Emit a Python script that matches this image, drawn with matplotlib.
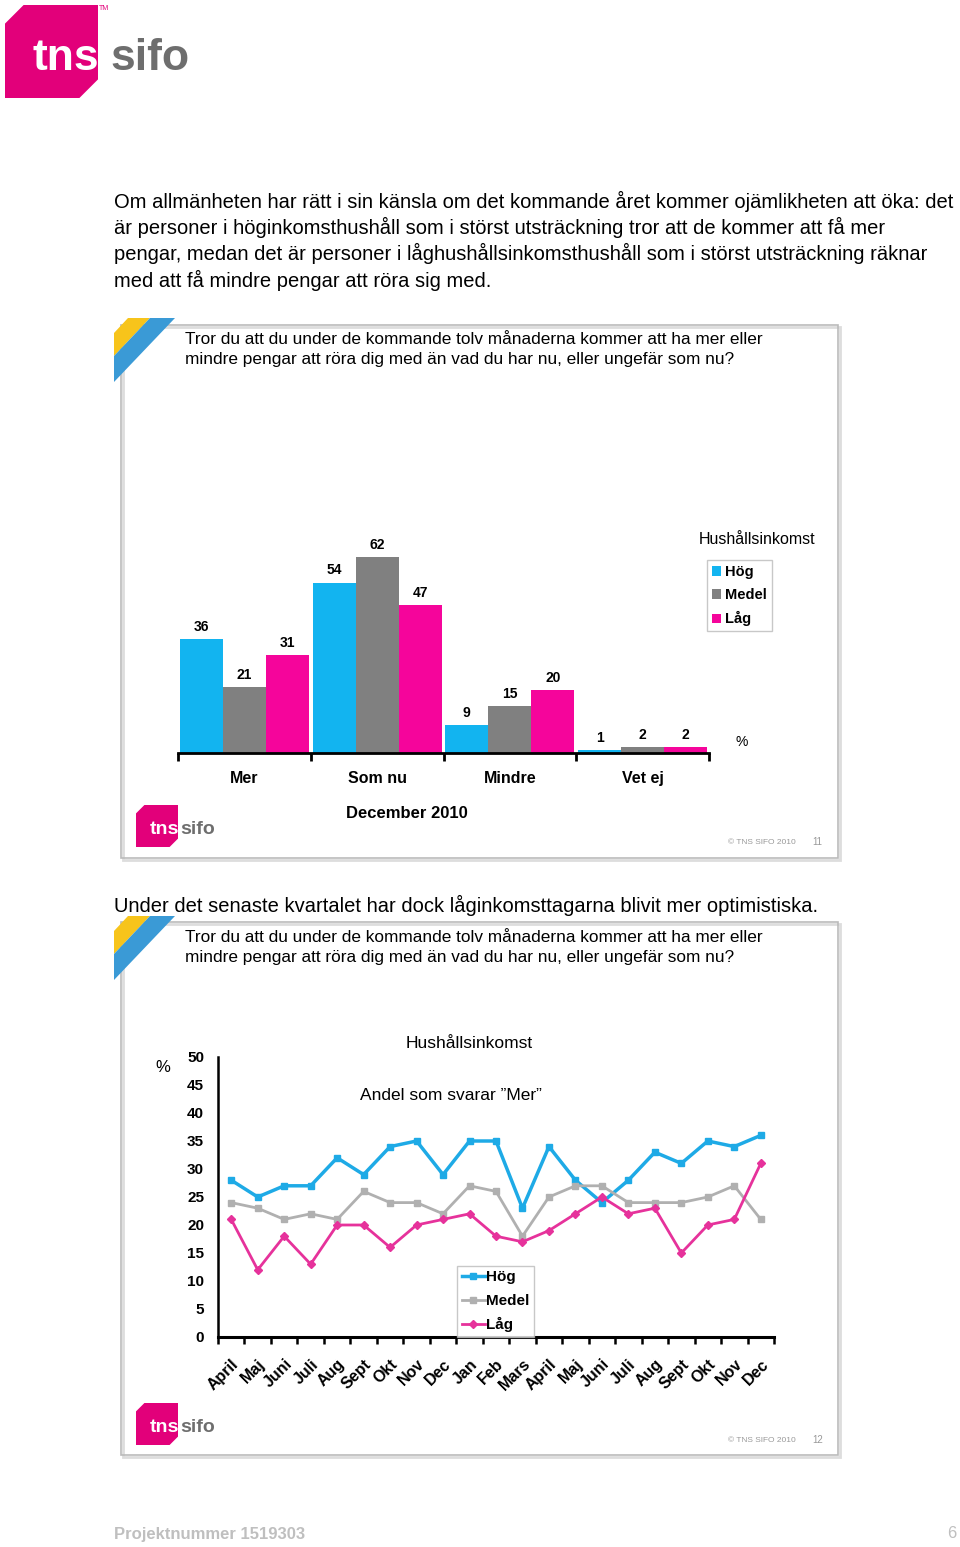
import matplotlib.pyplot as plt
from matplotlib.patches import Polygon, Rectangle

# Data - bar chart (December 2010)
categories = ["Mer", "Som nu", "Mindre", "Vet ej"]
bar_hog = [36, 54, 9, 1]
bar_medel = [21, 62, 15, 2]
bar_lag = [31, 47, 20, 2]

# Data - line chart (andel som svarar "Mer")
months = ["April", "Maj", "Juni", "Juli", "Aug", "Sept", "Okt", "Nov", "Dec",
          "Jan", "Feb", "Mars", "April", "Maj", "Juni", "Juli", "Aug", "Sept",
          "Okt", "Nov", "Dec"]
line_hog = [28, 25, 27, 27, 32, 29, 34, 35, 29, 35, 35, 23, 34, 28, 24, 28, 33, 31, 35, 34, 36]
line_medel = [24, 23, 21, 22, 21, 26, 24, 24, 22, 27, 26, 18, 25, 27, 27, 24, 24, 24, 25, 27, 21]
line_lag = [21, 12, 18, 13, 20, 20, 16, 20, 21, 22, 18, 17, 19, 22, 25, 22, 23, 15, 20, 21, 31]

BLUE = "#12B4F0"
GRAY = "#808080"
PINK = "#F5059B"
LBLUE = "#1EAAE6"
LGRAY = "#B0B0B0"
LPINK = "#E6329B"
MAGENTA = "#E2007A"

plt.rcParams['font.family'] = ['Liberation Sans', 'DejaVu Sans']
W, H = 960, 1547
fig = plt.figure(figsize=(9.6, 15.47), dpi=100)

# overlay in pixel coordinates
ov = fig.add_axes([0, 0, 1, 1], zorder=0)
ov.set_xlim(0, W)
ov.set_ylim(H, 0)
ov.axis('off')


def px_axes(x0, y0, x1, y1):
    return fig.add_axes([x0 / W, (H - y1) / H, (x1 - x0) / W, (y1 - y0) / H], zorder=2)


def logo(x, y, s, fs, gap):
    pts = [(x + 0.2 * s, y), (x + s, y), (x + s, y + 0.8 * s), (x + 0.8 * s, y + s),
           (x, y + s), (x, y + 0.2 * s)]
    ov.add_patch(Polygon(pts, closed=True, color=MAGENTA, lw=0))
    ov.text(x + s + 1, y + 0.58 * s, "tns", color="white", fontsize=fs,
            fontweight="bold", va="center", ha="right")
    ov.text(x + s + gap, y + 0.58 * s, "sifo", color="#6E6E6E", fontsize=fs,
            fontweight="bold", va="center", ha="left")


def corner(x, y):
    ov.add_patch(Polygon([(x + 14, y), (x + 36, y), (x, y + 38), (x, y + 15)],
                         closed=True, color="#F7C41B", lw=0))
    ov.add_patch(Polygon([(x + 36, y), (x + 61, y), (x, y + 64), (x, y + 38)],
                         closed=True, color="#3A9AD6", lw=0))


def panel(y0, y1):
    ov.add_patch(Rectangle((123, y0 + 2), 717, y1 - y0, fill=False, ec="#DDDDDD", lw=2))
    ov.add_patch(Rectangle((121, y0), 717, y1 - y0, fill=False, ec="#BBBBBB", lw=1.2))


# header logo
logo(5, 5, 93, 32, 12)
ov.text(99, 8, "TM", color=MAGENTA, fontsize=5, va="center")

para = ("Om allmänheten har rätt i sin känsla om det kommande året kommer ojämlikheten att öka: det\n"
        "är personer i höginkomsthushåll som i störst utsträckning tror att de kommer att få mer\n"
        "pengar, medan det är personer i låghushållsinkomsthushåll som i störst utsträckning räknar\n"
        "med att få mindre pengar att röra sig med.")
ov.text(114, 191, para, fontsize=14.5, va="top", ha="left", linespacing=1.3)

question = ("Tror du att du under de kommande tolv månaderna kommer att ha mer eller\n"
            "mindre pengar att röra dig med än vad du har nu, eller ungefär som nu?")

# ---- panel 1 ----
panel(325, 858)
corner(114, 318)
ov.text(185, 332, question, fontsize=12.4, va="top", ha="left", linespacing=1.42)

ax1 = px_axes(178, 532, 709, 753)
ax1.set_facecolor("none")
w = 0.324
xs = range(len(categories))
for off, vals, col, lab in [(-w, bar_hog, BLUE, "Hög"), (0, bar_medel, GRAY, "Medel"),
                            (w, bar_lag, PINK, "Låg")]:
    pos = [i + off for i in xs]
    ax1.bar(pos, vals, width=w, color=col, label=lab)
    for p, v in zip(pos, vals):
        ax1.text(p, v + 1.6, str(v), ha="center", va="bottom", fontsize=10, fontweight="bold")
ax1.set_xlim(-0.5, 3.5)
ax1.set_ylim(0, 70)
for s in ["top", "right", "left"]:
    ax1.spines[s].set_visible(False)
ax1.spines["bottom"].set_linewidth(2)
ax1.set_yticks([])
ax1.set_xticks([-0.5, 0.5, 1.5, 2.5, 3.5])
ax1.set_xticklabels([])
ax1.tick_params(axis="x", length=6, width=2, direction="out")
for i, c in enumerate(categories):
    ax1.text(i, -8, c, ha="center", va="center", fontsize=11.5, fontweight="bold")
ax1.text(3.7, 3.5, "%", ha="left", va="center", fontsize=10)
ov.text(757, 540, "Hushållsinkomst", ha="center", va="center", fontsize=11.5)
leg1 = ax1.legend(loc="upper left", bbox_to_anchor=(707 / W, (H - 560) / H),
                  bbox_transform=fig.transFigure, frameon=True, fancybox=False,
                  borderaxespad=0, handlelength=0.6, handleheight=0.6, handletextpad=0.3,
                  borderpad=0.35, labelspacing=0.62, prop={"weight": "bold", "size": 10.5})
leg1.get_frame().set_edgecolor("#BBBBBB")
ov.text(407, 813, "December 2010", ha="center", va="center", fontsize=12, fontweight="bold")
logo(136, 805, 42, 14, 2)
ov.text(728, 843, "© TNS SIFO 2010", fontsize=6, color="#999999", va="center")
ov.text(812, 842, "11", fontsize=7, color="#999999", va="center")

# ---- panel 2 ----
ov.text(114, 905, "Under det senaste kvartalet har dock låginkomsttagarna blivit mer optimistiska.",
        fontsize=14.5, va="center", ha="left")
panel(922, 1455)
corner(114, 916)
ov.text(185, 930, question, fontsize=12.4, va="top", ha="left", linespacing=1.42)

ax2 = px_axes(218, 1057, 774, 1337)
ax2.set_facecolor("none")
xm = list(range(len(months)))
ax2.plot(xm, line_hog, color=LBLUE, lw=2.5, marker="s", ms=5, label="Hög")
ax2.plot(xm, line_medel, color=LGRAY, lw=2, marker="s", ms=4, label="Medel")
ax2.plot(xm, line_lag, color=LPINK, lw=2, marker="D", ms=4.5, label="Låg")
ax2.set_xlim(-0.5, 20.5)
ax2.set_ylim(0, 50)
ax2.spines["top"].set_visible(False)
ax2.spines["right"].set_visible(False)
ax2.spines["left"].set_linewidth(1.8)
ax2.spines["bottom"].set_linewidth(2.2)
ax2.set_yticks(range(0, 51, 5))
ax2.tick_params(axis="y", length=0, pad=10, labelsize=11)
for t in ax2.get_yticklabels():
    t.set_fontweight("bold")
ax2.set_xticks(xm)
ax2.set_xticklabels(months, rotation=45, ha="right", rotation_mode="anchor",
                    fontsize=11.5, fontweight="bold")
ax2.tick_params(axis="x", length=0, pad=14)
ax2.set_xticks([i - 0.5 for i in range(22)], minor=True)
ax2.tick_params(axis="x", which="minor", length=5, width=1.8)
ov.text(163, 1067, "%", ha="center", va="center", fontsize=12)
ov.text(469, 1043, "Hushållsinkomst", ha="center", va="center", fontsize=12.5)
ov.text(451, 1096, "Andel som svarar \u201dMer\u201d", ha="center", va="center", fontsize=12.5)
leg2 = ax2.legend(loc="lower left", bbox_to_anchor=(457 / W, (H - 1337) / H),
                  bbox_transform=fig.transFigure, frameon=True, fancybox=False,
                  borderaxespad=0, handlelength=1.5, handletextpad=0.1, borderpad=0.3,
                  labelspacing=0.62, prop={"weight": "bold", "size": 11})
leg2.get_frame().set_edgecolor("#BBBBBB")
logo(136, 1403, 42, 14, 2)
ov.text(728, 1441, "© TNS SIFO 2010", fontsize=6, color="#999999", va="center")
ov.text(812, 1440, "12", fontsize=7, color="#999999", va="center")

# footer
ov.text(114, 1534, "Projektnummer 1519303", fontsize=12, fontweight="bold", color="#BFBFBF", va="center")
ov.text(956, 1534, "6", fontsize=12, color="#BFBFBF", va="center", ha="right")

fig.savefig("out.png", dpi=100)
